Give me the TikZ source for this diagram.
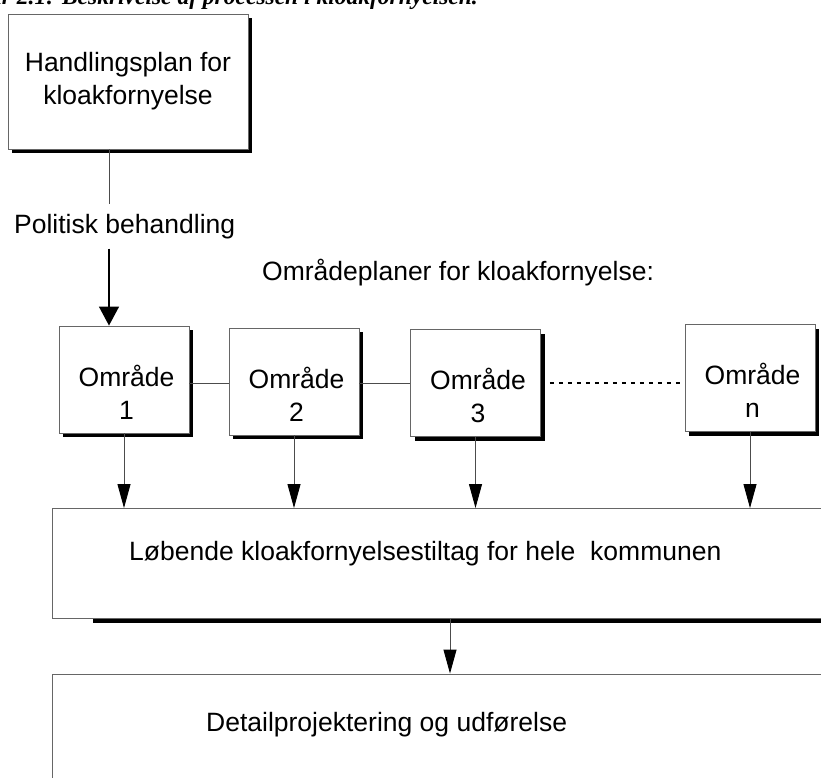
\documentclass[tikz,border=0pt]{standalone}
\usepackage{fontspec}
\setmainfont{Liberation Sans}
\newfontfamily\capfont{Liberation Serif}
\usetikzlibrary{arrows.meta,shadows}

\begin{document}
\begin{tikzpicture}[x=1pt,y=-1pt,
    frame/.style={draw=black!60,fill=white,line width=0.9pt,inner sep=0pt},
    box/.style={frame,drop shadow={shadow xshift=4pt,shadow yshift=-4pt,fill=black,opacity=1}},
    area/.style={box,minimum width=130pt,minimum height=107pt},
    txt/.style={font=\fontsize{26.5}{33}\selectfont,align=center},
    link/.style={draw=black!70,line width=0.9pt},
    >={Triangle[width=13pt,length=24pt,fill=black,color=black]}]
  \useasboundingbox (0,0) rectangle (821,778);
  % caption, cut off by the page edge
  \node[font=\capfont\bfseries\itshape\fontsize{23.5}{28}\selectfont,anchor=base east,inner sep=0pt] (cap) at (478,5)
    {Figur 2.1: Beskrivelse af processen i kloakfornyelsen.};
  \node[box,txt,minimum width=240pt,minimum height=135pt] (plan) at (128,81.5) {Handlingsplan for\\kloakfornyelse};
  \node[txt,anchor=base west,inner xsep=0pt,inner ysep=10pt] (pol) at (14,233) {Politisk behandling};
  \node[txt,anchor=base west,inner sep=0pt] (title) at (262,280) {Områdeplaner for kloakfornyelse:};
  \foreach \i/\x/\y in {1/124/379.5,2/294/381.5,3/475.5/383,n/750/378} {
    \node[area] (o\i) at (\x,\y) {};
    \node[txt] (o\i t) at ([xshift=2.5pt,yshift=-12.5pt]o\i.center) {Område\\\i};
  }
  \node[frame,minimum width=848pt,minimum height=110pt,
    drop shadow={shadow xshift=41pt,shadow yshift=-4pt,fill=black,opacity=1}] (lob) at (476,563.5) {};
  \node[txt,anchor=base west,inner sep=0pt] (lobt) at (129,560) {Løbende kloakfornyelsestiltag for hele~~kommunen};
  \node[frame,minimum width=848pt,minimum height=160pt] (det) at (476,754) {};
  \node[txt,anchor=base west,inner sep=0pt] (dett) at (206,731.7) {Detailprojektering og udførelse};
  % connectors
  \coordinate (pin) at (109,0);
  \coordinate (row) at (0,383);
  \coordinate (mid) at (450,0);
  \draw[link] (plan.south -| pin) -- (pol.north -| pin);
  \draw[link,line width=1.4pt,draw=black,-{Triangle[width=20pt,length=19pt]}] (pol.south -| pin) -- (o1.north -| pin);
  \draw[link] (o1.east |- row) -- (o2.west |- row);
  \draw[link] (o2.east |- row) -- (o3.west |- row);
  \draw[link,draw=black,line width=1.3pt,dash pattern=on 4pt off 5pt] (o3.east |- row) -- (on.west |- row);
  \foreach \i in {1,2,3,n} \draw[link,->] (o\i.south) -- (o\i.south |- lob.north);
  \draw[link,->] (lob.south -| mid) -- (det.north -| mid);
\end{tikzpicture}
\end{document}
